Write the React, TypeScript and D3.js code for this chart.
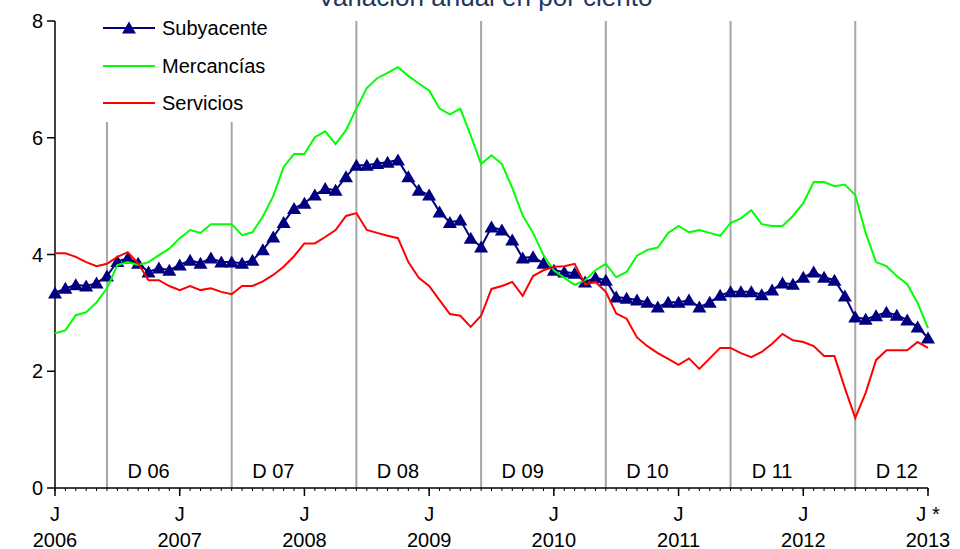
import React from 'react';
import * as d3 from 'd3';

// monthly, Jan 2006 .. Jan 2013
const subyacente = [
  3.34, 3.42, 3.48, 3.46, 3.51, 3.63, 3.88, 3.94, 3.85, 3.7,
  3.77, 3.73, 3.82, 3.9, 3.85, 3.94, 3.87, 3.87, 3.85, 3.9,
  4.08, 4.3, 4.55, 4.79, 4.88, 5.02, 5.13, 5.1, 5.33, 5.53,
  5.53, 5.56, 5.58, 5.62, 5.33, 5.1, 5.02, 4.73, 4.55, 4.59,
  4.28, 4.13, 4.47, 4.42, 4.25, 3.94, 3.96, 3.85, 3.73, 3.7,
  3.68, 3.53, 3.6, 3.56, 3.27, 3.25, 3.22, 3.18, 3.1, 3.18,
  3.18, 3.22, 3.1, 3.18, 3.3, 3.36, 3.36, 3.36, 3.31, 3.39,
  3.51, 3.49, 3.61, 3.7, 3.61, 3.56, 3.29, 2.93, 2.89, 2.95,
  3.01, 2.96, 2.88, 2.76, 2.57,
];
const mercancias = [
  2.65, 2.7, 2.96, 3.01, 3.18, 3.42, 3.82, 3.87, 3.82, 3.87,
  3.99, 4.1, 4.28, 4.42, 4.37, 4.52, 4.52, 4.52, 4.33, 4.38,
  4.65, 5.0, 5.5, 5.72, 5.72, 6.01, 6.11, 5.89, 6.13, 6.5,
  6.85, 7.02, 7.11, 7.21, 7.06, 6.93, 6.81, 6.5, 6.4, 6.5,
  6.04, 5.55, 5.7, 5.55, 5.14, 4.67, 4.37, 3.99, 3.73, 3.6,
  3.48, 3.56, 3.73, 3.84, 3.61, 3.7, 3.98, 4.08, 4.12, 4.37,
  4.49, 4.38, 4.42, 4.37, 4.32, 4.54, 4.62, 4.76, 4.52, 4.49,
  4.49, 4.66, 4.88, 5.24, 5.24, 5.17, 5.2, 5.02, 4.37, 3.87,
  3.8, 3.63, 3.49, 3.17, 2.74,
];
const servicios = [
  4.02, 4.02, 3.96, 3.87, 3.8, 3.84, 3.96, 4.04, 3.85, 3.56,
  3.56, 3.46, 3.39, 3.46, 3.39, 3.42, 3.36, 3.32, 3.46, 3.46,
  3.54, 3.65, 3.79, 3.97, 4.19, 4.19, 4.3, 4.42, 4.66, 4.71,
  4.42, 4.37, 4.32, 4.28, 3.87, 3.6, 3.46, 3.22, 2.98, 2.95,
  2.76, 2.95, 3.41, 3.46, 3.53, 3.29, 3.63, 3.73, 3.79, 3.8,
  3.84, 3.49, 3.53, 3.36, 2.99, 2.9, 2.58, 2.43, 2.31, 2.21,
  2.11, 2.22, 2.04, 2.22, 2.4, 2.4, 2.31, 2.24, 2.33, 2.47,
  2.64, 2.53, 2.5, 2.43, 2.26, 2.26, 1.71, 1.2, 1.63, 2.19,
  2.36, 2.36, 2.36, 2.5, 2.4,
];

const yearMonths = [0, 12, 24, 36, 48, 60, 72, 84];
const yearLabels = ['2006', '2007', '2008', '2009', '2010', '2011', '2012', '2013'];
const monthLabels = ['J', 'J', 'J', 'J', 'J', 'J', 'J', 'J *'];
const decMarks = [5, 17, 29, 41, 53, 65, 77];
const decLabels = ['D 06', 'D 07', 'D 08', 'D 09', 'D 10', 'D 11', 'D 12'];
const yTicks = [0, 2, 4, 6, 8];

const W = 960;
const H = 549;
const font = '"Liberation Sans", Arial, sans-serif';

export default function App() {
  const x = d3.scaleLinear().domain([0, 84]).range([55, 928]);
  const y = d3.scaleLinear().domain([0, 8]).range([488, 21]);

  const line = d3.line<number>()
    .x((d, i) => x(i))
    .y((d) => y(d));

  const tri = 'M0,-6.5L7,5.5L-7,5.5Z';
  const months = d3.range(0, 85);

  return (
    <svg width={W} height={H} style={{ position: 'absolute', left: 0, top: 0, background: '#fff' }}
      fontFamily={font}>
      <text x={485} y={6} textAnchor="middle" fontSize={26} fill="#1F3760">
        Variación anual en por ciento
      </text>

      {/* december separators */}
      {decMarks.map((m, i) => (
        <g key={m}>
          <line x1={x(m)} x2={x(m)} y1={y(8)} y2={y(0)} stroke="#A6A6A6" strokeWidth={2} />
          <text x={x(m + 4)} y={478} textAnchor="middle" fontSize={20} fill="#000">{decLabels[i]}</text>
        </g>
      ))}

      {/* legend background */}
      <rect x={95} y={8} width={240} height={114} fill="#fff" />

      {/* y axis */}
      <line x1={x(0)} x2={x(0)} y1={y(8)} y2={y(0)} stroke="#000" strokeWidth={1.5} />
      {yTicks.map((t) => (
        <g key={t}>
          <line x1={x(0) - 8} x2={x(0)} y1={y(t)} y2={y(t)} stroke="#000" strokeWidth={1.5} />
          <text x={43} y={y(t) + 7} textAnchor="end" fontSize={20}>{t}</text>
        </g>
      ))}

      {/* x axis */}
      <line x1={x(0)} x2={x(84)} y1={y(0)} y2={y(0)} stroke="#000" strokeWidth={1.5} />
      {months.map((m) => (
        <line key={m} x1={x(m)} x2={x(m)} y1={y(0)} y2={y(0) + 3} stroke="#000" strokeWidth={1} />
      ))}
      {yearMonths.map((m, i) => (
        <g key={m}>
          <line x1={x(m)} x2={x(m)} y1={y(0)} y2={y(0) + 8} stroke="#000" strokeWidth={1.5} />
          <text x={x(m)} y={521} textAnchor="middle" fontSize={20}>{monthLabels[i]}</text>
          <text x={x(m)} y={547} textAnchor="middle" fontSize={20}>{yearLabels[i]}</text>
        </g>
      ))}

      {/* series */}
      <path d={line(subyacente) || ''} fill="none" stroke="#000080" strokeWidth={2} />
      {subyacente.map((d, i) => (
        <path key={i} d={tri} transform={`translate(${x(i)},${y(d)})`} fill="#000080" />
      ))}
      <path d={line(mercancias) || ''} fill="none" stroke="#00FF00" strokeWidth={2} />
      <path d={line(servicios) || ''} fill="none" stroke="#FF0000" strokeWidth={2} />

      {/* legend */}
      <g fontSize={20}>
        <line x1={103} x2={155} y1={28} y2={28} stroke="#000080" strokeWidth={2} />
        <path d={tri} transform="translate(129,28)" fill="#000080" />
        <text x={162} y={35}>Subyacente</text>
        <line x1={103} x2={155} y1={66} y2={66} stroke="#00FF00" strokeWidth={2} />
        <text x={162} y={73}>Mercancías</text>
        <line x1={103} x2={155} y1={103} y2={103} stroke="#FF0000" strokeWidth={2} />
        <text x={162} y={110}>Servicios</text>
      </g>
    </svg>
  );
}
